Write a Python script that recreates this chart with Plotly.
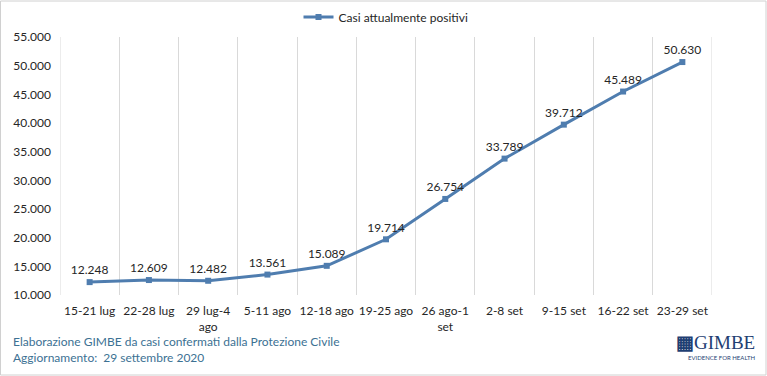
import plotly.graph_objects as go

categories = ["15-21 lug", "22-28 lug", "29 lug-4<br>ago", "5-11 ago", "12-18 ago",
              "19-25 ago", "26 ago-1<br>set", "2-8 set", "9-15 set", "16-22 set", "23-29 set"]
values = [12248, 12609, 12482, 13561, 15089, 19714, 26754, 33789, 39712, 45489, 50630]
value_labels = ["12.248", "12.609", "12.482", "13.561", "15.089", "19.714",
                "26.754", "33.789", "39.712", "45.489", "50.630"]
y_ticks = [10000, 15000, 20000, 25000, 30000, 35000, 40000, 45000, 50000, 55000]
y_ticktext = ["10.000", "15.000", "20.000", "25.000", "30.000", "35.000",
              "40.000", "45.000", "50.000", "55.000"]

xs = list(range(len(categories)))
FONT = "Lato"
FS = 12
LINE = "#4F7DAF"
TXT = "#262626"

fig = go.Figure()
fig.add_trace(go.Scatter(
    x=xs, y=values, mode="lines+markers+text",
    name="Casi attualmente positivi",
    line=dict(color=LINE, width=3),
    marker=dict(symbol="square", size=6, color=LINE),
    text=value_labels, textposition="top center",
    textfont=dict(family=FONT, size=FS, color=TXT),
    cliponaxis=False,
))

fig.update_layout(
    width=767, height=376,
    margin=dict(l=60, r=55, t=37, b=81, autoexpand=False),
    paper_bgcolor="white", plot_bgcolor="white",
    font=dict(family=FONT, size=FS, color=TXT),
    showlegend=True,
    legend=dict(orientation="h", x=0.5, xanchor="center",
                y=1 + (37 - 17) / 258, yanchor="middle",
                font=dict(family=FONT, size=FS, color=TXT),
                itemwidth=30, bgcolor="rgba(0,0,0,0)"),
    xaxis=dict(range=[-0.5, 10.5], tickvals=xs, ticktext=categories,
               showgrid=False, zeroline=False, showline=False, ticks="",
               ticklabelstandoff=7, tickangle=0,
               tickfont=dict(family=FONT, size=FS, color=TXT),
               minor=dict(tick0=0.5, dtick=1, showgrid=True, gridcolor="#D9D9D9",
                          gridwidth=1, ticks="")),
    yaxis=dict(range=[10000, 55000], tickvals=y_ticks, ticktext=y_ticktext,
               showgrid=False, zeroline=False, showline=False, ticks="",
               ticklabelstandoff=8,
               tickfont=dict(family=FONT, size=FS, color=TXT)),
)

# Outer border
fig.add_shape(type="rect", xref="paper", yref="paper", x0=-59.5/652, x1=1+54/652,
              y0=-80/258, y1=1+36/258, line=dict(color="#D0D0D0", width=1))
# Boundary gridlines
fig.add_shape(type="line", xref="x", yref="y", x0=-0.5, x1=-0.5, y0=10000, y1=55000,
              line=dict(color="#D9D9D9", width=1))
fig.add_shape(type="line", xref="x", yref="y", x0=10.5, x1=10.5, y0=10000, y1=55000,
              line=dict(color="#D9D9D9", width=1))

fig.add_annotation(text="Elaborazione GIMBE da casi confermati dalla Protezione Civile",
                   xref="paper", yref="paper", x=-49/652, y=-(341-295)/258,
                   xanchor="left", yanchor="middle", showarrow=False,
                   font=dict(family=FONT, size=FS, color="#3C7193"))
fig.add_annotation(text="Aggiornamento:  29 settembre 2020",
                   xref="paper", yref="paper", x=-49/652, y=-(357-295)/258,
                   xanchor="left", yanchor="middle", showarrow=False,
                   font=dict(family=FONT, size=FS, color="#3C7193"))
fig.add_annotation(text="<b>▦</b>GIMBE", xref="paper", yref="paper",
                   x=1+45/652, y=-(343-295)/258, xanchor="right", yanchor="middle",
                   showarrow=False,
                   font=dict(family="Liberation Serif", size=19, color="#1F3F73"))
fig.add_annotation(text="EVIDENCE FOR HEALTH", xref="paper", yref="paper",
                   x=1+45/652, y=-(357-295)/258, xanchor="right", yanchor="middle",
                   showarrow=False,
                   font=dict(family=FONT, size=6, color="#1F3F73"))

fig.write_html("out.html")
